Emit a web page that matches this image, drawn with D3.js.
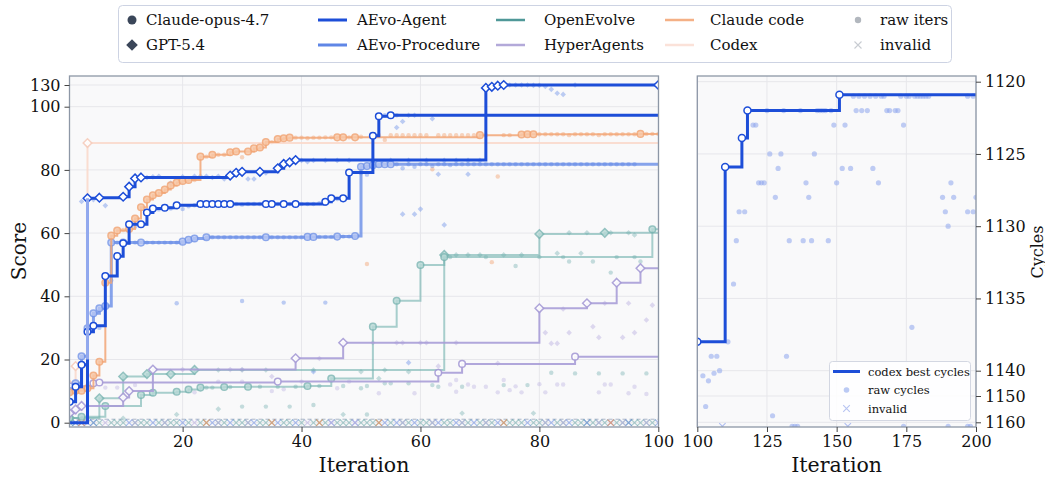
<!DOCTYPE html>
<html>
<head>
<meta charset="utf-8">
<script src="https://cdn.jsdelivr.net/npm/d3@7"></script>
<style>
  body { margin: 0; background: #fff; }
  svg { font-family: "DejaVu Serif", serif; }
</style>
</head>
<body>
<svg id="chart" width="1045" height="477"></svg>
<script>
// best-so-far points [iteration, score]
const agentGpt = [[1,0],[4,71],[6,71.2],[10,71.5],[11,74.7],[12,77.3],[13,77.6],[28,78.2],[29,79.1],[30,79.4],[33,79.4],[36,80.5],[37,81.9],[38,82.4],[39,83.1],[71,126],[72,127.5],[73,129],[74,130],[100,130]];
const agentClaude = [[1,6.6],[2,11.4],[3,18.3],[4,28.8],[5,30.7],[7,46.4],[9,52.7],[10,56.8],[11,62.8],[13,62.8],[14,66.5],[15,67.8],[17,68],[19,68.8],[23,69.2],[24,69.2],[25,69.2],[26,69.2],[27,69.2],[28,69.2],[34,69.2],[35,69.2],[37,69.2],[39,69.2],[44,69.9],[45,71],[47,71],[48,79.2],[52,90.8],[53,97],[55,97.3]];
const procClaude = [[1,10],[2,12.5],[3,21],[4,29.9],[5,34.6],[6,36.2],[7,36.9],[8,57],[10,57],[13,57],[20,57.3],[21,57.9],[22,58.3],[24,58.7],[34,58.7],[41,58.8],[42,58.8],[46,58.9],[49,59.1],[50,81],[51,81.2],[52,81.5],[53,81.8],[54,81.8],[55,81.8]];
const procGpt = [[4,20],[4,71]];
const claudeCode = [[1,9.6],[2,10.1],[3,10.1],[4,10.9],[5,14.9],[6,19.3],[7,44.3],[8,59.2],[9,60.8],[11,61.3],[12,64.6],[13,68.2],[14,70.6],[15,72],[16,72.7],[17,73.8],[18,75.1],[19,76],[20,76.5],[21,76.8],[23,84.2],[25,84.8],[28,85.6],[29,85.8],[31,85.8],[32,86.8],[33,87.1],[34,88.8],[36,89.8],[37,90],[38,90.2],[46,90.3],[47,90.3],[49,90.3],[70,91],[77,91.2],[78,91.3],[79,91.3],[97,91.4]];
const codexGpt = [[1,12],[2,17.9],[4,88.5]];
const openGpt = [[1,1.5],[6,7.7],[10,14.6],[14,15.4],[18,15.4],[22,16.7],[64,53.1],[80,59.7],[91,60.1]];
const openClaude = [[1,1.5],[3,1.9],[7,5.3],[13,8.8],[15,9.5],[19,9.8],[21,10.5],[23,11.1],[27,11.3],[31,11.4],[41,11.6],[45,14],[52,30.4],[56,38.6],[60,49.9],[64,52.4],[99,61.2]];
const hyperGpt = [[1,3],[2,4.2],[3,5.3],[10,8],[11,10],[15,16.8],[39,20.4],[47,25.3],[80,36.2],[88,37.8],[93,44.3],[97,48.9]];
const hyperClaude = [[1,11.5],[5,12.5],[6,12.7],[36,13],[63,15.8],[67,18.6],[86,20.9]];

// raw iterations [iteration, score]
const rawAgentGpt = [[3,70],[5,70.6],[7,68.7],[14,77.6],[15,77.8],[16,78],[18,75.8],[20,77.8],[22,78],[23,78],[24,78],[25,77.6],[26,78],[27,77.1],[31,77.1],[32,77.1],[34,79],[40,83],[41,82.6],[42,83],[44,83],[46,83],[48,83],[52,83],[55,83],[58,83],[61,83],[64,83],[66,83],[68,83],[70,83],[56,93.4],[57,95.3],[58,97.3],[59,97.3],[62,96.2],[57,66],[59,66],[60,67.6],[64,62.6],[63,78.6],[68,78.6],[75,130],[76,130],[77,130],[78,130],[79,129.5],[80,129.5],[81,128],[82,124],[83,118.5],[84,117],[86,130],[42,16.1],[58,19]];
const rawAgentClaude = [[6,30],[8,45],[12,62],[16,67.5],[18,67.8],[20,67.6],[21,68.5],[22,68.8],[29,69.2],[30,69],[31,69.2],[32,69.2],[33,69.2],[36,69.2],[38,69.2],[40,69.2],[41,69.2],[42,69.2],[43,69.5],[46,70.8],[50,79],[51,78.5],[54,97.3],[56,97.3]];
const rawProcClaude = [[9,57],[11,57],[12,57],[14,57],[15,57],[16,57],[17,57],[18,57],[19,57],[25,58.7],[26,58.7],[27,58.7],[28,58.7],[29,58.7],[30,58.7],[31,58.7],[32,58.7],[33,58.7],[35,58.7],[36,58.7],[37,58.7],[38,58.7],[39,58.7],[40,58.7],[43,58.8],[44,58.8],[45,58.8],[47,58.9],[48,58.9],[19,37.8],[30,38.5],[37,38],[44,38],[56,81.8],[57,80.5],[58,81.8],[59,81],[60,81.8],[61,81.8],[62,81.2],[63,81.8],[64,81.8],[65,81.5],[66,81.8],[67,81.8],[68,81.8],[69,81.8],[70,81.8],[71,81.8],[72,81.8],[73,81.8],[74,81.8],[75,81.8],[76,81.8],[77,81.8],[78,81.8],[79,81.8],[80,81.8],[81,81.8],[82,81.8],[83,81.8],[84,81.8],[85,81.8],[86,81.8],[87,81.8],[88,81.8],[89,81.8],[90,81.8],[91,81.8],[92,81.8],[93,81.8],[94,81.8],[95,81.8],[96,81.8]];
const rawClaudeCode = [[10,61],[22,76.8],[24,84.2],[26,84.8],[27,84.8],[30,84],[35,88.8],[39,90.2],[40,90.2],[41,90],[42,90.2],[43,90.2],[44,90.3],[45,90.3],[48,90.3],[50,90.5],[51,50.2],[53,91],[54,89.5],[55,91],[56,91],[57,91],[58,91],[59,91],[60,91],[61,91],[62,80.2],[63,91],[64,91],[65,91],[66,91],[67,91],[68,91],[69,91],[71,91],[72,50.8],[73,77.9],[74,91],[75,91],[80,91.3],[81,91.3],[82,91.3],[83,91.3],[84,91.3],[85,91],[86,91.3],[87,91.3],[88,91.3],[89,91.3],[90,91],[91,91.3],[92,91.3],[93,91.3],[94,91.3],[95,91.3],[96,91.3],[98,91.4],[99,91.4],[100,91.4]];
const rawOpenGpt = [[10,1.4],[19,2.6],[26,4.3],[47,2.6],[50,16.1],[54,16.7],[58,16.1],[53,14],[42,16.7],[34,16.7],[30,16.7],[26,16.7],[83,53.6],[87,53.6],[95,60.1],[96,59.4],[67,3],[79,3],[66,53.1],[68,53.1],[70,53.1],[74,53.1],[77,53.1],[85,60.1],[88,60.1],[92,60.1]];
const rawOpenClaude = [[30,5.1],[34,5.1],[38,5.1],[42,5.6],[51,2.6],[47,11.6],[50,10.9],[51,11.6],[54,12.5],[55,12.5],[58,12.5],[62,11.9],[63,11.4],[67,11.4],[74,11.9],[78,11.9],[76,49.6],[85,51],[89,51],[92,47.5],[97,51],[82,15.8],[86,15.6],[90,15.6],[94,15.6],[98,15.6],[65,52.4],[71,52.4],[80,52.4],[84,52.4],[93,52.4],[96,52.4],[24,11.1],[25,11.1],[28,11.3],[33,11.4],[36,11.4],[39,11.4],[43,11.6]];
const rawHyperGpt = [[81,28.5],[85,28.5],[82,25.1],[83,25.1],[89,30.4],[90,27],[94,27],[96,28.5],[98,32.5],[95,37.8],[99,37.2],[91,37.8],[84,36],[57,25.3],[61,25.3],[66,25.3],[52,25.3],[56,25.3],[60,25.3],[43,20.3],[28,16.8],[30,16.8],[20,16.8],[63,17.9],[73,18.8],[35,14.6]];
const rawHyperClaude = [[7,11.1],[9,11.1],[12,11.9],[22,9.6],[35,10],[37,10.6],[46,10.9],[53,9.3],[59,9.3],[65,12.1],[66,13.5],[68,12.1],[69,11.4],[71,11.4],[73,9.6],[74,13.5],[75,10.3],[76,11.5],[77,9.6],[80,12.2],[81,9.6],[83,12.1],[84,12.1],[90,9.6],[91,12.1],[92,12.1],[95,9.3],[96,11.4],[98,9.1],[66,9.8],[26,13],[30,13],[40,13],[48,13]];

// invalid iterations (score 0)
const invalidOpen = [1,2,3,5,6,8,9,10,12,13,14,16,17,18,19,21,23,24,26,27,29,30,31,33,34,35,37,38,40,42,43,44,46,47,48,50,51,52,53,55,57,58,60,61,62,64,65,67,68,70,71,72,74,75,76,77,79,80,81,83,84,86,87,88,89,90,91,93,94,95,96,97,98,99];
const invalidAgent = [2,4,5,11,15,20,25,28,32,36,39,45,49,54,56,59,63,66,69,73,78,82,85,88,92,95,100];
const invalidHyper = [3,7,12,17,22,26,31,41,45,49,57,62,67,71,81,84,90,94,98];
const invalidClaudeCode = [3,24,35,43,53,74,92];

// codex cycles (right panel)
const codexBestCycles = [[100,1138],[110,1125.9],[116,1123.9],[118,1122],[151,1120.9]];
const rawCycles = [[102,1142],[103,1154],[104,1144],[105,1139],[106,1141],[107,1139],[108,1140],[111,1138],[113,1134],[114,1131],[115,1129],[117,1129],[120,1123],[121,1123],[122,1127],[123,1127],[124,1127],[125,1122],[126,1125],[127,1157.5],[128,1128],[129,1126],[130,1125],[131,1122],[132,1139],[133,1131],[134,1161.5],[135,1161.5],[136,1161.5],[137,1122],[138,1131],[139,1127],[140,1128],[141,1131],[142,1125],[143,1122],[144,1122],[145,1122],[146,1122],[147,1131],[148,1122],[149,1123],[150,1127],[152,1126],[153,1123],[155,1126],[156,1121],[157,1122],[158,1121],[159,1122],[160,1121],[161,1122],[162,1121],[163,1126],[164,1121],[165,1127],[166,1121],[167,1121],[168,1122],[169,1122],[171,1122],[172,1122],[173,1121],[174,1123],[175,1121],[176,1121],[177,1137],[178,1121],[179,1121],[180,1121],[181,1121],[182,1121],[183,1121],[188,1128],[189,1129],[190,1130],[191,1127],[192,1128],[197,1129],[199,1129],[200,1128],[197,1121],[199,1121],[174,1161.5],[190,1161.5],[197,1161.5],[198,1161.5]];
const invalidCycles = [109,154];

const yTicksL = [0,20,40,60,80,100,130];
const xTicksL = [20,40,60,80,100];
const xTicksR = [100,125,150,175,200];
const yTicksR = [1120,1125,1130,1135,1140,1150,1160];

const svg = d3.select("#chart");
const L = {x0: 69.5, x1: 658.5, y0: 76, y1: 427};
const R = {x0: 697.3, x1: 976, y0: 76, y1: 427};
const xL = d3.scaleLinear().domain([1, 100]).range([69.65, 658.3]);
const yL = d3.scaleLinear().domain([0, 100, 130]).range([422.7, 106.7, 85]);
const xR = d3.scaleLinear().domain([100, 200]).range([R.x0, R.x1]);
const yR = d3.scaleLinear().domain([1120, 1140, 1150, 1160]).range([81.7, 370.7, 396, 422.3]);

const diamond = s => `M0,${-s}L${s},0L0,${s}L${-s},0Z`;
const cross = s => `M${-s},${-s}L${s},${s}M${-s},${s}L${s},${-s}`;

// panel backgrounds + grids
function panel(P, id, xs, ys, xt, yt) {
  svg.append("rect").attr("x", P.x0).attr("y", P.y0).attr("width", P.x1 - P.x0).attr("height", P.y1 - P.y0).attr("fill", "#f9f9fa");
  svg.append("clipPath").attr("id", id).append("rect").attr("x", P.x0).attr("y", P.y0).attr("width", P.x1 - P.x0).attr("height", P.y1 - P.y0);
  const g = svg.append("g").attr("stroke", "#e7e7eb").attr("stroke-width", 1);
  xt.forEach(t => g.append("line").attr("x1", xs(t)).attr("x2", xs(t)).attr("y1", P.y0).attr("y2", P.y1));
  yt.forEach(t => g.append("line").attr("x1", P.x0).attr("x2", P.x1).attr("y1", ys(t)).attr("y2", ys(t)));
}
panel(L, "clipL", xL, yL, xTicksL, yTicksL);
panel(R, "clipR", xR, yR, xTicksR, yTicksR);

const gL = svg.append("g").attr("clip-path", "url(#clipL)");
const gR = svg.append("g").attr("clip-path", "url(#clipR)");

// dashed baseline above the invalid row
gL.append("line").attr("x1", L.x0).attr("x2", L.x1).attr("y1", yL(1.1)).attr("y2", yL(1.1))
  .attr("stroke", "#8c9db5").attr("stroke-width", 1).attr("stroke-dasharray", "4,3").attr("opacity", 0.7);

// invalid crosses
function crosses(its, color, op) {
  gL.selectAll(null).data(its).enter().append("path")
    .attr("d", cross(3.2)).attr("transform", d => `translate(${xL(d)},${yL(0)})`)
    .attr("stroke", color).attr("stroke-width", 1.1).attr("fill", "none").attr("opacity", op);
}
crosses(invalidOpen, "#6aa6a8", 0.55);
crosses(invalidAgent, "#5b7fe0", 0.5);
crosses(invalidHyper, "#b8aee0", 0.6);
crosses(invalidClaudeCode, "#e8905c", 0.7);

// raw dots
function rawDots(pts, shape, color, op) {
  const sel = gL.selectAll(null).data(pts).enter();
  if (shape === "c") {
    sel.append("circle").attr("cx", d => xL(d[0])).attr("cy", d => yL(d[1])).attr("r", 2.2)
      .attr("fill", color).attr("opacity", op);
  } else {
    sel.append("path").attr("d", diamond(2.8)).attr("transform", d => `translate(${xL(d[0])},${yL(d[1])})`)
      .attr("fill", color).attr("opacity", op);
  }
}
rawDots(rawOpenGpt, "d", "#5fa3a3", 0.35);
rawDots(rawOpenClaude, "c", "#5fa3a3", 0.35);
rawDots(rawHyperGpt, "d", "#b1a6dc", 0.4);
rawDots(rawHyperClaude, "c", "#b1a6dc", 0.35);
rawDots(rawClaudeCode, "c", "#f2a270", 0.45);
rawDots(rawProcClaude, "c", "#5f86e6", 0.4);
rawDots(rawAgentGpt, "d", "#5f86e6", 0.4);
rawDots(rawAgentClaude, "c", "#5f86e6", 0.4);

// best-so-far step lines
const seriesL = [
  {pts: codexGpt, end: 100, color: "#fad9cc", width: 2, op: 0.9, shape: "d", fill: "#fff", mark: "#f6cdbd"},
  {pts: openGpt, end: 100, color: "#6fb0ae", width: 2, op: 0.6, shape: "d", fill: "#b8d9d6", mark: "#7ab5b2"},
  {pts: openClaude, end: 100, color: "#6fb0ae", width: 2, op: 0.6, shape: "c", fill: "#b8d9d6", mark: "#7ab5b2"},
  {pts: hyperGpt, end: 100, color: "#a89dd7", width: 2, op: 0.9, shape: "d", fill: "#fff", mark: "#a89dd7"},
  {pts: hyperClaude, end: 100, color: "#a89dd7", width: 2, op: 0.9, shape: "c", fill: "#fff", mark: "#a89dd7"},
  {pts: procClaude, end: 100, color: "#5f86e6", width: 3, op: 0.75, shape: "c", fill: "#b9c8f4", mark: "#7193e8"},
  {pts: claudeCode, end: 100, color: "#f2a676", width: 2, op: 0.85, shape: "c", fill: "#f8c8a7", mark: "#f2a676"},
  {pts: agentGpt, end: 100, color: "#1d4ed8", width: 3, op: 1, shape: "d", fill: "#fff", mark: "#1d4ed8"},
  {pts: agentClaude, end: 100, color: "#1d4ed8", width: 3, op: 1, shape: "c", fill: "#fff", mark: "#1d4ed8"},
  {pts: procGpt, end: 4, color: "#92a9ee", width: 3, op: 1, shape: null}
];

const stepL = d3.line().curve(d3.curveStepAfter).x(d => xL(d[0])).y(d => yL(d[1]));
seriesL.forEach(s => {
  const last = s.pts[s.pts.length - 1];
  const pts = last[0] < s.end ? s.pts.concat([[s.end, last[1]]]) : s.pts;
  gL.append("path").attr("d", stepL(pts)).attr("fill", "none").attr("stroke", s.color)
    .attr("stroke-width", s.width).attr("opacity", s.op).attr("stroke-linejoin", "miter");
  if (!s.shape) return;
  const mk = s.pts.filter(d => d[1] > 0.5);
  const sel = gL.selectAll(null).data(mk).enter();
  if (s.shape === "c") {
    sel.append("circle").attr("cx", d => xL(d[0])).attr("cy", d => yL(d[1])).attr("r", 3.3)
      .attr("fill", s.fill).attr("stroke", s.mark).attr("stroke-width", 1.5).attr("opacity", Math.max(s.op, 0.8));
  } else {
    sel.append("path").attr("d", diamond(4.3)).attr("transform", d => `translate(${xL(d[0])},${yL(d[1])})`)
      .attr("fill", s.fill).attr("stroke", s.mark).attr("stroke-width", 1.5).attr("opacity", Math.max(s.op, 0.8));
  }
});

// right panel: raw cycles, invalid, best line
gR.selectAll(null).data(rawCycles).enter().append("circle")
  .attr("cx", d => xR(d[0])).attr("cy", d => yR(d[1])).attr("r", 2.6).attr("fill", "#8ea6ec").attr("opacity", 0.55);
gR.selectAll(null).data(invalidCycles).enter().append("path")
  .attr("d", cross(3.2)).attr("transform", d => `translate(${xR(d)},${yR(1161.5)})`)
  .attr("stroke", "#aebdf0").attr("stroke-width", 1.1).attr("fill", "none");
const stepR = d3.line().curve(d3.curveStepAfter).x(d => xR(d[0])).y(d => yR(d[1]));
const lastC = codexBestCycles[codexBestCycles.length - 1];
gR.append("path").attr("d", stepR(codexBestCycles.concat([[200, lastC[1]]])))
  .attr("fill", "none").attr("stroke", "#1d4ed8").attr("stroke-width", 3);
gR.selectAll(null).data(codexBestCycles).enter().append("circle")
  .attr("cx", d => xR(d[0])).attr("cy", d => yR(d[1])).attr("r", 3.5)
  .attr("fill", "#fff").attr("stroke", "#1d4ed8").attr("stroke-width", 1.5);

// frames
[L, R].forEach(P => svg.append("rect").attr("x", P.x0).attr("y", P.y0).attr("width", P.x1 - P.x0).attr("height", P.y1 - P.y0)
  .attr("fill", "none").attr("stroke", "#8d97a6").attr("stroke-width", 1.3));

// axes
function styleAxis(g) {
  g.select(".domain").remove();
  g.selectAll(".tick line").attr("stroke", "#444").attr("stroke-width", 1);
  g.selectAll(".tick text").attr("fill", "#111").style("font-size", "16px").style("font-family", "DejaVu Serif, serif");
}
const fmt = d3.format("d");
svg.append("g").attr("transform", `translate(${L.x0},0)`)
  .call(d3.axisLeft(yL).tickValues(yTicksL).tickFormat(fmt).tickSize(5).tickPadding(4)).call(styleAxis);
svg.append("g").attr("transform", `translate(0,${L.y1})`)
  .call(d3.axisBottom(xL).tickValues(xTicksL).tickFormat(fmt).tickSize(5).tickPadding(4)).call(styleAxis);
svg.append("g").attr("transform", `translate(${R.x1},0)`)
  .call(d3.axisRight(yR).tickValues(yTicksR).tickFormat(fmt).tickSize(5).tickPadding(4)).call(styleAxis);
svg.append("g").attr("transform", `translate(0,${R.y1})`)
  .call(d3.axisBottom(xR).tickValues(xTicksR).tickFormat(fmt).tickSize(5).tickPadding(4)).call(styleAxis);

// axis titles
svg.append("text").attr("transform", "translate(19,251) rotate(-90)").attr("text-anchor", "middle")
  .attr("dominant-baseline", "central").style("font-size", "20px").attr("fill", "#111").text("Score");
svg.append("text").attr("x", (L.x0 + L.x1) / 2).attr("y", 472).attr("text-anchor", "middle")
  .style("font-size", "20.5px").attr("fill", "#111").text("Iteration");
svg.append("text").attr("x", (R.x0 + R.x1) / 2).attr("y", 472).attr("text-anchor", "middle")
  .style("font-size", "20.5px").attr("fill", "#111").text("Iteration");
svg.append("text").attr("transform", "translate(1037,252) rotate(-90)").attr("text-anchor", "middle")
  .attr("dominant-baseline", "central").style("font-size", "16px").attr("fill", "#111").text("Cycles");

// main legend
const lg = svg.append("g");
lg.append("rect").attr("x", 118.5).attr("y", 5.5).attr("width", 833).attr("height", 57).attr("rx", 4)
  .attr("fill", "#fff").attr("stroke", "#cdd3e3");
const rows = [20, 45];
const legText = (x, y, t) => lg.append("text").attr("x", x).attr("y", y).attr("dominant-baseline", "central")
  .style("font-size", "15px").attr("fill", "#111").text(t);
lg.append("circle").attr("cx", 132).attr("cy", rows[0]).attr("r", 4.5).attr("fill", "#3a4659");
lg.append("path").attr("d", diamond(5.8)).attr("transform", `translate(132,${rows[1]})`).attr("fill", "#3a4659");
legText(146, rows[0], "Claude-opus-4.7");
legText(146, rows[1], "GPT-5.4");
const legLines = [
  {x: 318, tx: 357, color: "#1d4ed8", w: 3, op: 1, t: "AEvo-Agent", r: 0},
  {x: 318, tx: 357, color: "#5f86e6", w: 3, op: 1, t: "AEvo-Procedure", r: 1},
  {x: 496, tx: 544, color: "#4f9898", w: 2.5, op: 1, t: "OpenEvolve", r: 0},
  {x: 496, tx: 544, color: "#b3a9d9", w: 2.5, op: 1, t: "HyperAgents", r: 1},
  {x: 665, tx: 710, color: "#f4b086", w: 2.5, op: 1, t: "Claude code", r: 0},
  {x: 665, tx: 710, color: "#fbe2d9", w: 2.5, op: 1, t: "Codex", r: 1}
];
legLines.forEach(l => {
  lg.append("line").attr("x1", l.x).attr("x2", l.x + 29).attr("y1", rows[l.r]).attr("y2", rows[l.r])
    .attr("stroke", l.color).attr("stroke-width", l.w).attr("opacity", l.op);
  legText(l.tx, rows[l.r], l.t);
});
lg.append("circle").attr("cx", 858).attr("cy", rows[0]).attr("r", 3.2).attr("fill", "#b2b7be");
lg.append("path").attr("d", cross(3.5)).attr("transform", `translate(858,${rows[1]})`)
  .attr("stroke", "#c8ccd2").attr("stroke-width", 1.1).attr("fill", "none");
legText(880, rows[0], "raw iters");
legText(880, rows[1], "invalid");

// right legend
const rg = svg.append("g");
rg.append("rect").attr("x", 829.5).attr("y", 361.5).attr("width", 141).attr("height", 59).attr("rx", 3)
  .attr("fill", "#fff").attr("fill-opacity", 0.85).attr("stroke", "#d3d7e2");
rg.append("line").attr("x1", 833).attr("x2", 860).attr("y1", 371.5).attr("y2", 371.5).attr("stroke", "#1d4ed8").attr("stroke-width", 3);
rg.append("circle").attr("cx", 846.5).attr("cy", 390).attr("r", 2.8).attr("fill", "#8ea6ec").attr("opacity", 0.6);
rg.append("path").attr("d", cross(3.3)).attr("transform", "translate(846.5,408.5)")
  .attr("stroke", "#b7c4f2").attr("stroke-width", 1.1).attr("fill", "none");
[["codex best cycles", 371.5], ["raw cycles", 390], ["invalid", 408.5]].forEach(([t, y]) =>
  rg.append("text").attr("x", 868).attr("y", y).attr("dominant-baseline", "central")
    .style("font-size", "11.5px").attr("fill", "#111").text(t));
</script>
</body>
</html>
